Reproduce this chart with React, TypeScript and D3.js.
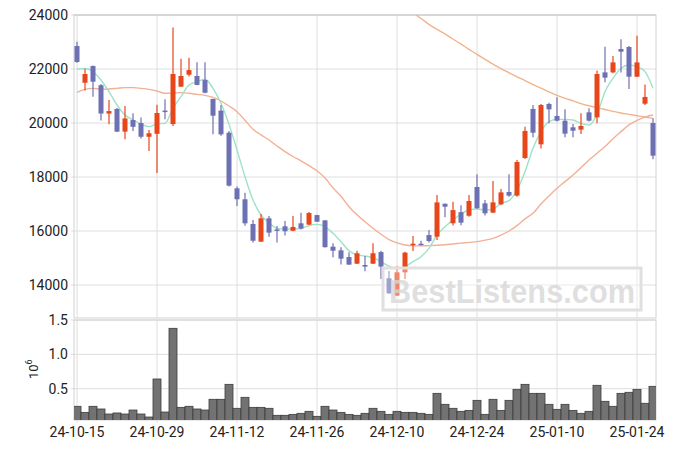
import React from 'react';
import * as d3 from 'd3';

const dates = [
  '24-10-15', '24-10-16', '24-10-17', '24-10-18', '24-10-21', '24-10-22', '24-10-23', '24-10-24', '24-10-25', '24-10-28',
  '24-10-29', '24-10-30', '24-10-31', '24-11-01', '24-11-04', '24-11-05', '24-11-06', '24-11-07', '24-11-08', '24-11-11',
  '24-11-12', '24-11-13', '24-11-14', '24-11-15', '24-11-18', '24-11-19', '24-11-20', '24-11-21', '24-11-22', '24-11-25',
  '24-11-26', '24-11-27', '24-11-28', '24-11-29', '24-12-02', '24-12-03', '24-12-04', '24-12-05', '24-12-06', '24-12-09',
  '24-12-10', '24-12-11', '24-12-12', '24-12-13', '24-12-16', '24-12-17', '24-12-18', '24-12-19', '24-12-20', '24-12-23',
  '24-12-24', '24-12-26', '24-12-27', '24-12-30', '25-01-02', '25-01-03', '25-01-06', '25-01-07', '25-01-08', '25-01-09',
  '25-01-10', '25-01-13', '25-01-14', '25-01-15', '25-01-16', '25-01-17', '25-01-20', '25-01-21', '25-01-22', '25-01-23',
  '25-01-24', '25-01-31', '25-02-03',
];

const opens = [
  22850, 21490, 22110, 21400, 20350, 20520, 19680, 20110, 20000, 19490,
  19600, 20460, 19960, 21345, 21790, 21740, 21590, 20890, 20460, 19640,
  17580, 17175, 16260, 15605, 16470, 16060, 16175, 16010, 16285, 16235,
  16590, 16395, 15420, 15285, 15035, 14790, 14740, 14790, 15220, 14250,
  13605, 14470, 15495, 15530, 15850, 15790, 17010, 16285, 16700, 16565,
  17630, 17025, 16680, 16990, 17445, 17310, 18705, 20520, 19210, 20705,
  20260, 20085, 19840, 19755, 20395, 20210, 21875, 21875, 22740, 22815,
  21715, 20715, 20000,
];
const highs = [
  23010, 22010, 22130, 21440, 20850, 20560, 20630, 20360, 20200, 19740,
  20680, 20880, 23540, 22380, 22420, 22250, 22250, 20900, 20670, 19700,
  17650, 17420, 16410, 16630, 16555, 16185, 16370, 16555, 16680, 16700,
  16600, 16400, 15545, 15395, 15210, 15270, 15075, 15545, 15270, 14520,
  14700, 15235, 15815, 15640, 16040, 17335, 17020, 17085, 16950, 17335,
  18100, 17150, 17850, 17555, 18100, 18630, 19865, 20665, 20705, 20750,
  20950, 20505, 19965, 20360, 20545, 21940, 22825, 22480, 23100, 22850,
  23235, 21430, 20175,
];
const lows = [
  22230, 21200, 20970, 20090, 19950, 19670, 19400, 19700, 19430, 18960,
  18150, 20140, 19890, 21330, 21720, 21400, 21100, 19580, 19530, 17650,
  16930, 16190, 15570, 15600, 15790, 15570, 15830, 15990, 16060, 16220,
  16340, 15390, 15025, 14755, 14750, 14780, 14505, 14780, 14220, 13680,
  13600, 14220, 15260, 15460, 15570, 15665, 16505, 16200, 16210, 16530,
  16820, 16570, 16670, 16950, 17270, 17270, 18665, 19470, 19060, 19990,
  20060, 19470, 19470, 19590, 20060, 19990, 21505, 21840, 21875, 21260,
  21700, 20665, 18655,
];
const closes = [
  22260, 21815, 21530, 20350, 20440, 19680, 20170, 19860, 19490, 19620,
  20370, 20420, 21815, 21740, 21960, 21410, 21120, 20270, 19580, 17680,
  17175, 16285, 15640, 16470, 15940, 16025, 15990, 16150, 16090, 16665,
  16345, 15400, 15270, 14975, 14755, 15175, 14680, 15175, 14680, 13690,
  14470, 15200, 15530, 15495, 15630, 17060, 16900, 16775, 16310, 17110,
  16840, 16655, 17060, 17430, 17310, 18555, 19705, 19640, 20665, 20505,
  20085, 19605, 19715, 19890, 20085, 21815, 21680, 22245, 22640, 21715,
  22245, 20965, 18790,
];

// volume in millions of shares
const volumes = [
  0.243, 0.155, 0.243, 0.204, 0.131, 0.146, 0.131, 0.189, 0.131, 0.087,
  0.641, 0.160, 1.379, 0.228, 0.243, 0.204, 0.189, 0.345, 0.345, 0.563,
  0.214, 0.374, 0.228, 0.228, 0.214, 0.112, 0.112, 0.126, 0.141, 0.170,
  0.097, 0.243, 0.189, 0.155, 0.126, 0.112, 0.141, 0.214, 0.170, 0.126,
  0.170, 0.155, 0.155, 0.141, 0.126, 0.432, 0.272, 0.214, 0.170, 0.184,
  0.330, 0.126, 0.345, 0.184, 0.330, 0.490, 0.563, 0.432, 0.432, 0.272,
  0.199, 0.272, 0.184, 0.141, 0.170, 0.549, 0.316, 0.243, 0.432, 0.447,
  0.490, 0.287, 0.534,
];

const ma5 = [
  22000, 22020, 21900, 21593, 21160, 20667, 20296, 20111, 19963, 19864,
  19963, 19988, 20543, 20975, 21407, 21530, 21618, 21284, 20729, 19950,
  19000, 18012, 17148, 16592, 16308, 16099, 16074, 16074, 16099, 16198,
  16247, 16160, 15913, 15605, 15272, 15111, 15074, 15012, 14864, 14700,
  14593, 14679, 14864, 15049, 15358, 15852, 16160, 16407, 16629, 16777,
  16814, 16777, 16814, 17025, 17123, 17518, 18197, 19062, 19679, 20049,
  20136, 20136, 20111, 19988, 19926, 20321, 21160, 21655, 22025, 22148,
  22086, 21901, 21284,
];
const ma20 = [
  21136, 21247, 21284, 21250, 21260, 21284, 21310, 21310, 21284, 21247,
  21185, 21100, 21110, 21124, 21100, 21062, 21025, 20950, 20815, 20630,
  20420, 20100, 19770, 19560, 19370, 19150, 18940, 18760, 18600, 18420,
  18230, 17960, 17600, 17290, 16900, 16600, 16345, 16100, 15880, 15680,
  15560, 15480, 15450, 15450, 15460, 15470, 15490, 15520, 15550, 15580,
  15605, 15660, 15730, 15850, 16000, 16200, 16450, 16654, 17000, 17300,
  17580, 17830, 18074, 18350, 18630, 18880, 19130, 19420, 19680, 19930,
  20100, 20220, 20296,
];
const ma60 = [
  null, null, null, null, null, null, null, null, null, null,
  null, null, null, null, null, null, null, null, null, null,
  null, null, null, null, null, null, null, null, null, null,
  null, null, null, null, null, null, null, null, null, null,
  null, 24290, 24080, 23870, 23650, 23470, 23300, 23110, 22920, 22730,
  22540, 22360, 22180, 22010, 21860, 21710, 21570, 21420, 21290, 21150,
  21020, 20910, 20820, 20720, 20640, 20570, 20500, 20430, 20370, 20320,
  20270, 20220, 20173,
];

const priceTicks = [14000, 16000, 18000, 20000, 22000, 24000];
const volTicks = [0.5, 1.0, 1.5];

const UP = '#e6461a';
const DOWN = '#6d71b3';
const FONT = 'Roboto, "DejaVu Sans", sans-serif';

const App = () => {
  const W = 675;
  const H = 449;
  const left = 74;
  const right = 656;
  const pTop = 15;
  const pBottom = 318;
  const vTop = 320;
  const vBottom = 420;

  const x = d3.scaleLinear().domain([-0.375, dates.length - 0.625]).range([left, right]);
  const y = d3.scaleLinear().domain([12778, 24000]).range([pBottom, pTop]);
  const yv = d3.scaleLinear().domain([0, 1.5]).range([423, vTop]);

  const xTicks = dates.map((d, i) => i).filter(i => i % 10 === 0);

  const line = d3
    .line<any>()
    .defined(d => d != null)
    .x((d, i) => x(i))
    .y(d => y(d))
    .curve(d3.curveMonotoneX);

  const bodyW = 5;

  return (
    <svg
      width={W}
      height={H}
      style={{ position: 'absolute', left: 0, top: 0, background: '#fff' }}
      fontFamily={FONT}>
      <defs>
        <clipPath id="priceClip">
          <rect x={left} y={pTop} width={right - left} height={pBottom - pTop} />
        </clipPath>
        <clipPath id="volClip">
          <rect x={left} y={vTop} width={right - left} height={vBottom - vTop} />
        </clipPath>
      </defs>

      {/* grid */}
      <g stroke="#dedede" strokeWidth={1}>
        {priceTicks.map(t => (
          <line key={'pg' + t} x1={left - 3} x2={right} y1={y(t)} y2={y(t)} />
        ))}
        {volTicks.map(t => (
          <line key={'vg' + t} x1={left - 3} x2={right} y1={yv(t)} y2={yv(t)} />
        ))}
        {xTicks.map(i => (
          <g key={'xg' + i}>
            <line x1={x(i)} x2={x(i)} y1={pTop} y2={pBottom} />
            <line x1={x(i)} x2={x(i)} y1={vTop} y2={vBottom + 3} />
          </g>
        ))}
      </g>

      {/* frames */}
      <g fill="none" stroke="#d2d2d2" strokeWidth={1}>
        <rect x={left} y={pTop} width={right - left} height={pBottom - pTop} />
        <rect x={left} y={vTop} width={right - left} height={vBottom - vTop} />
      </g>
      <line x1={left} x2={right} y1={pTop} y2={pTop} stroke="#d6d6d6" strokeWidth={2} />

      {/* moving averages */}
      <g clipPath="url(#priceClip)" fill="none" strokeWidth={1.4}>
        <path d={line(ma60 as any) || ''} stroke="#f0b48c" />
        <path d={line(ma20 as any) || ''} stroke="#f2b095" />
        <path d={line(ma5 as any) || ''} stroke="#9ee2c8" />
      </g>

      {/* candles */}
      <g clipPath="url(#priceClip)">
        {dates.map((d, i) => {
          const o = opens[i];
          const c = closes[i];
          const up = c >= o;
          const color = up ? UP : DOWN;
          const top = y(Math.max(o, c));
          const bot = y(Math.min(o, c));
          return (
            <g key={'c' + i}>
              <line x1={x(i)} x2={x(i)} y1={y(highs[i])} y2={y(lows[i])} stroke={color} strokeWidth={1.2} />
              <rect
                x={x(i) - bodyW / 2}
                y={top}
                width={bodyW}
                height={Math.max(1.5, bot - top)}
                fill={color}
              />
            </g>
          );
        })}
      </g>

      {/* volume */}
      <g clipPath="url(#volClip)">
        {volumes.map((v, i) => (
          <rect
            key={'v' + i}
            x={x(i) - 4}
            y={yv(v)}
            width={8}
            height={yv(0) - yv(v)}
            fill="#727272"
            stroke="#3c3c3c"
            strokeWidth={0.8}
          />
        ))}
      </g>

      {/* axes labels */}
      <g fontSize={14} fill="#222" textAnchor="end">
        {priceTicks.map(t => (
          <text key={'pt' + t} x={68} y={y(t)} dy="0.35em">
            {t}
          </text>
        ))}
        {volTicks.map(t => (
          <text key={'vt' + t} x={68} y={yv(t)} dy="0.35em">
            {t.toFixed(1)}
          </text>
        ))}
      </g>
      <g fontSize={14} fill="#222" textAnchor="middle">
        {xTicks.map(i => (
          <text key={'xt' + i} x={x(i)} y={437}>
            {dates[i]}
          </text>
        ))}
      </g>
      <text transform="translate(38,379) rotate(-90)" fontSize={13} fill="#222">
        10
        <tspan fontSize={9} dy={-6}>
          6
        </tspan>
      </text>

      {/* watermark */}
      <g>
        <rect
          x={383}
          y={268}
          width={258}
          height={42}
          fill="rgba(255,255,255,0.35)"
          stroke="#e0e0e0"
          strokeWidth={3}
        />
        <text
          x={389}
          y={303}
          fontSize={34}
          fontWeight="bold"
          fontFamily='"Liberation Sans", Arial, sans-serif'
          fill="rgba(215,215,215,0.8)"
          textLength={246}
          lengthAdjust="spacingAndGlyphs">
          BestListens.com
        </text>
      </g>
    </svg>
  );
};

export default App;
